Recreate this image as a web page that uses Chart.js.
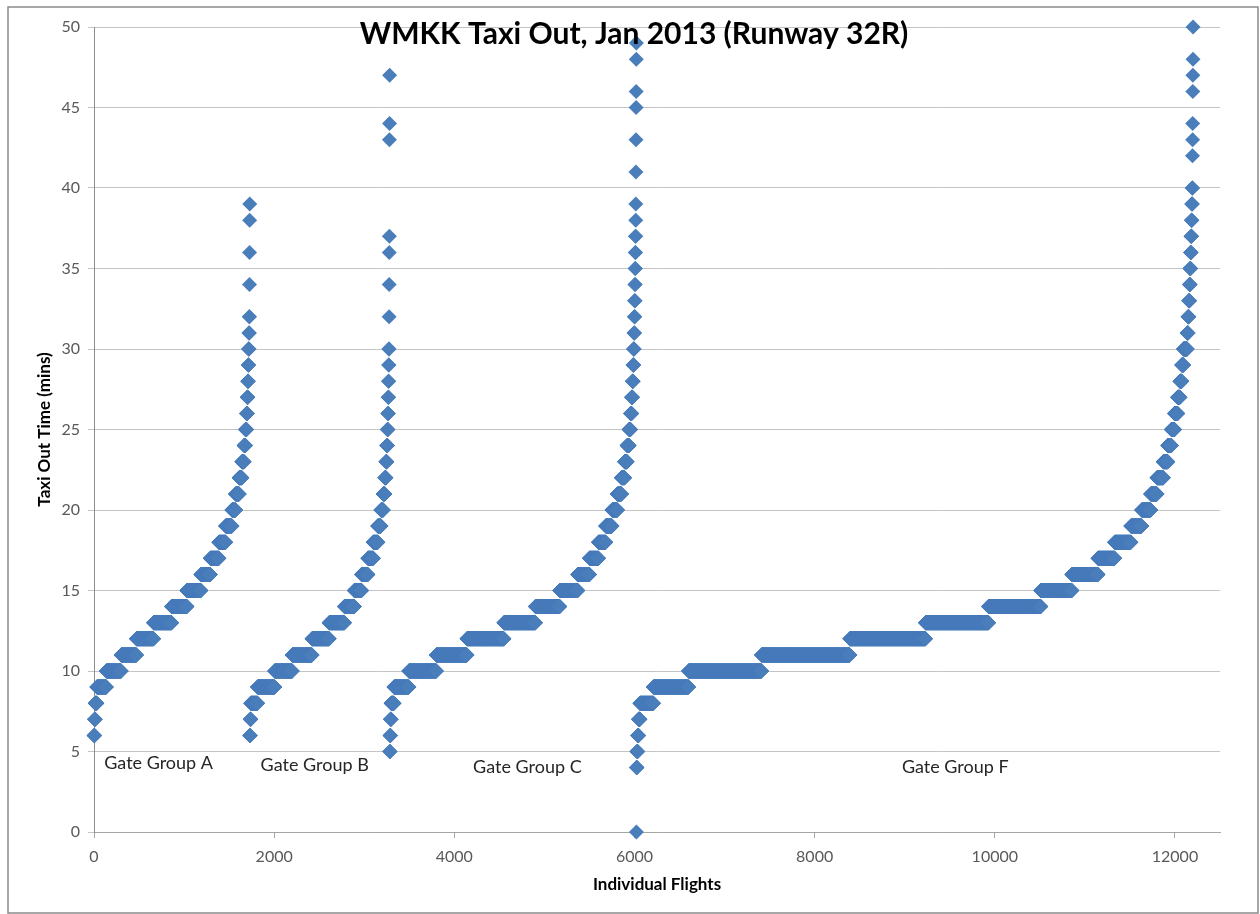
<!DOCTYPE html>
<html>
<head>
<meta charset="utf-8">
<title>WMKK Taxi Out, Jan 2013 (Runway 32R)</title>
<script src="https://cdn.jsdelivr.net/npm/chart.js@4.4.1/dist/chart.umd.min.js"></script>
<style>
  html, body { margin: 0; padding: 0; background: #ffffff; }
  canvas { display: block; }
</style>
</head>
<body>
<canvas id="chart" width="1260" height="914"></canvas>
<script>
// Taxi-out time (whole minutes) observed for each gate group, and the number
// of departures that took that long. Flights are plotted in sorted order,
// one after another along the x axis.
const groupNames = ['Gate Group A', 'Gate Group B', 'Gate Group C', 'Gate Group F'];

const minutesA = [6,7,8,9,10,11,12,13,14,15,16,17,18,19,20,21,22,23,24,25,26,27,28,29,30,31,32,34,36,38,39];
const flightsA = [6,7,18,105,165,170,190,200,170,155,105,95,75,70,40,40,30,25,15,12,8,6,5,4,4,3,2,1,1,1,1];

const minutesB = [6,7,8,9,10,11,12,13,14,15,16,17,18,19,20,21,22,23,24,25,26,27,28,29,30,32,34,36,37,43,44,47];
const flightsB = [5,6,75,190,195,220,190,170,110,80,70,60,50,35,25,18,12,10,7,5,4,3,2,2,2,1,1,1,1,1,1,1];

const minutesC = [5,6,7,8,9,10,11,12,13,14,15,16,17,18,19,20,21,22,23,24,25,26,27,28,29,30,31,32,33,34,35,36,37,38,39,41,43,45,46,48,49];
const flightsC = [4,5,7,32,165,305,340,410,350,270,200,130,100,80,70,60,45,35,28,22,16,12,9,7,6,5,4,3,3,2,2,2,2,1,1,1,1,1,1,1,1];

const minutesF = [0,4,5,6,7,8,9,10,11,12,13,14,15,16,17,18,19,20,21,22,23,24,25,26,27,28,29,30,31,32,33,34,35,36,37,38,39,40,42,43,44,46,47,48,50];
const flightsF = [1,5,8,10,15,150,390,810,980,840,700,580,345,290,185,180,120,100,70,70,50,40,35,35,25,20,20,40,10,8,8,6,6,5,5,4,4,3,1,1,1,1,1,1,1];

// Axis ticks
const xTicks = [0, 2000, 4000, 6000, 8000, 10000, 12000];
const yTicks = [0, 5, 10, 15, 20, 25, 30, 35, 40, 45, 50];

// Group captions, anchored in data units (flight index, minutes)
const captionX = [717, 2450, 4811, 9561];
const captionY = [4.3, 4.15, 4.0, 4.05];

// Expand the per-minute counts into one point per flight
let flightIndex = 0;
function flightsToPoints(minutes, flights) {
  const pts = [];
  for (let i = 0; i < minutes.length; i++) {
    for (let k = 0; k < flights[i]; k++) {
      flightIndex += 1;
      pts.push({ x: flightIndex, y: minutes[i] });
    }
  }
  return pts;
}
const seriesPoints = [
  flightsToPoints(minutesA, flightsA),
  flightsToPoints(minutesB, flightsB),
  flightsToPoints(minutesC, flightsC),
  flightsToPoints(minutesF, flightsF)
];

const FONT = 'Lato, "Open Sans", "Liberation Sans", sans-serif';
const BLUE = '#4a7ebb';

const frameAndText = {
  id: 'frameAndText',
  beforeDraw(chart) {
    const ctx = chart.ctx;
    ctx.save();
    ctx.fillStyle = '#ffffff';
    ctx.fillRect(0, 0, chart.width, chart.height);
    ctx.restore();
  },
  afterDraw(chart) {
    const ctx = chart.ctx;
    const xs = chart.scales.x, ys = chart.scales.y;
    ctx.save();
    // chart border
    ctx.strokeStyle = '#8a8a8a';
    ctx.lineWidth = 1.5;
    ctx.strokeRect(8, 7, 1250, 906);
    // title
    ctx.fillStyle = '#000000';
    ctx.font = 'bold 30px ' + FONT;
    ctx.textAlign = 'center';
    ctx.textBaseline = 'middle';
    ctx.fillText('WMKK Taxi Out, Jan 2013 (Runway 32R)', 634, 34);
    // group captions
    ctx.font = '18px ' + FONT;
    ctx.fillStyle = '#262626';
    groupNames.forEach((name, i) => {
      ctx.fillText(name, xs.getPixelForValue(captionX[i]), ys.getPixelForValue(captionY[i]));
    });
    ctx.restore();
  }
};

new Chart(document.getElementById('chart'), {
  type: 'scatter',
  data: {
    datasets: seriesPoints.map((pts, i) => ({
      label: groupNames[i],
      data: pts,
      pointStyle: 'rectRot',
      pointRadius: 7.5,
      pointBorderWidth: 0,
      backgroundColor: BLUE,
      borderColor: BLUE,
      clip: false
    }))
  },
  options: {
    responsive: false,
    devicePixelRatio: 1,
    animation: false,
    events: [],
    layout: { padding: { left: 30, top: 27, right: 40, bottom: 15 } },
    plugins: {
      legend: { display: false },
      tooltip: { enabled: false },
      title: { display: false }
    },
    scales: {
      x: {
        type: 'linear',
        min: 0,
        max: 12500,
        afterBuildTicks: s => { s.ticks = xTicks.map(v => ({ value: v })); },
        afterFit: s => { s.height = 67; },
        ticks: { color: '#595959', font: { family: FONT, size: 16 }, padding: 9, maxRotation: 0,
                 callback: v => String(v) },
        grid: { drawOnChartArea: false, drawTicks: true, tickLength: 6, color: '#a6a6a6' },
        border: { display: true, color: '#a6a6a6' },
        title: { display: true, text: 'Individual Flights', color: '#000000',
                 font: { family: FONT, size: 17, weight: 'bold' }, padding: { top: 4, bottom: 4 } }
      },
      y: {
        type: 'linear',
        min: 0,
        max: 50,
        afterBuildTicks: s => { s.ticks = yTicks.map(v => ({ value: v })); },
        afterFit: s => { s.width = 64; },
        ticks: { color: '#595959', font: { family: FONT, size: 16 }, padding: 8,
                 callback: v => String(v) },
        grid: { drawOnChartArea: true, drawTicks: true, tickLength: 6, color: '#c4c4c4' },
        border: { display: true, color: '#8c8c8c' },
        title: { display: true, text: 'Taxi Out Time (mins)', color: '#000000',
                 font: { family: FONT, size: 17, weight: 'bold' }, padding: { top: 4, bottom: 4 } }
      }
    }
  },
  plugins: [frameAndText]
});
</script>
</body>
</html>
